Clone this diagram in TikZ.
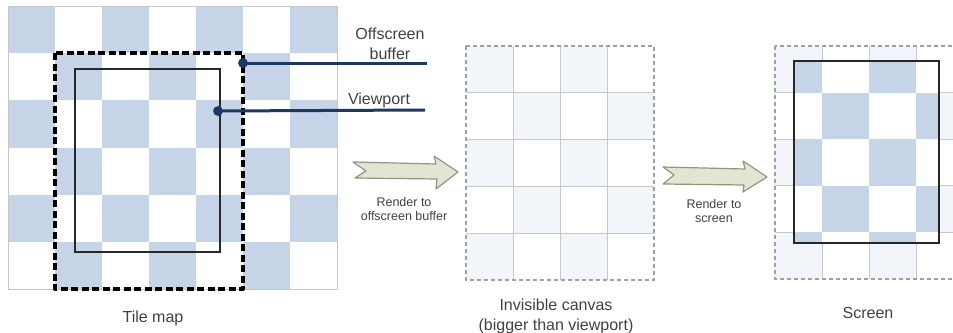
\documentclass[tikz,border=0pt]{standalone}
\usepackage{fontspec}
\setmainfont{Liberation Sans}
\definecolor{tileblue}{RGB}{197,212,231}
\definecolor{faintblue}{RGB}{242,246,251}
\definecolor{gridgray}{RGB}{200,200,200}
\definecolor{dashgray}{RGB}{160,160,160}
\definecolor{navy}{RGB}{30,55,100}
\definecolor{arrowfill}{RGB}{226,229,209}
\definecolor{arrowline}{RGB}{145,150,128}
\definecolor{labelgray}{RGB}{65,65,65}
\definecolor{vpgray}{RGB}{40,40,40}
\tikzset{
  lbl/.style={text=labelgray, font=\fontsize{16}{20}\selectfont, align=center, inner sep=0pt},
  smalllbl/.style={text=labelgray, font=\fontsize{12.5}{14.5}\selectfont, align=center, inner sep=0pt},
  leader/.style={draw=navy, line width=3pt},
  dotmark/.style={circle, fill=navy, minimum size=9.5pt, inner sep=0pt},
  blockarrow/.style={fill=arrowfill, draw=arrowline, line width=1.2pt, line join=round},
  offbuf/.style={draw=black, line width=3.3pt, dash pattern=on 7pt off 3.5pt, line join=round},
  vport/.style={draw=vpgray, line width=2pt},
  screenvport/.style={draw=black!85, line width=2.6pt},
  canvasborder/.style={draw=dashgray, line width=1.8pt, dash pattern=on 4pt off 3pt},
  gridline/.style={draw=gridgray, line width=1pt},
}
\begin{document}
\begin{tikzpicture}[x=1pt,y=-1pt]
\clip (0,0) rectangle (953,332);
\fill[white] (0,0) rectangle (953,332);

% ---------- Tile map ----------
\foreach \r in {0,...,5}{
  \foreach \c in {0,...,6}{
    \pgfmathtruncatemacro\p{mod(\r+\c,2)}
    \ifnum\p=0
      \fill[tileblue] ({8+47*\c},{6+47.17*\r}) rectangle ({8+47*(\c+1)},{6+47.17*(\r+1)});
    \fi
  }
}
\draw[gridgray, line width=0.8pt] (8,6) rectangle (337,289);
\draw[offbuf] (55,53) rectangle (243,289);
\draw[vport] (75,69) rectangle (220,252);

% leaders
\node[dotmark] (obdot) at (243,63) {};
\node[dotmark] (vpdot) at (218,111) {};
\coordinate (obend) at (427,63);
\coordinate (vpend) at (425,110);
\draw[leader] (obdot.center) -- (obend);
\draw[leader] (vpdot.center) -- (vpend);
\node[dotmark] at (obdot) {};
\node[dotmark] at (vpdot) {};
\node[lbl] (oblabel) at (390,44) {Offscreen\\buffer};
\node[lbl] (vplabel) at (379,100) {Viewport};
\node[lbl] (tilemap) at (153,318) {Tile map};

% ---------- Invisible canvas ----------
\foreach \r in {0,...,4}{
  \foreach \c in {0,...,3}{
    \pgfmathtruncatemacro\p{mod(\r+\c,2)}
    \ifnum\p=0
      \fill[faintblue] ({466+47*\c},{46+46.8*\r}) rectangle ({466+47*(\c+1)},{46+46.8*(\r+1)});
    \fi
  }
}
\foreach \c in {1,2,3} \draw[gridline] ({466+47*\c},46) -- ({466+47*\c},280);
\foreach \r in {1,2,3,4} \draw[gridline] (466,{46+46.8*\r}) -- (654,{46+46.8*\r});
\draw[canvasborder] (466,46) rectangle (654,280);
\node[lbl] (canvaslabel) at (556,316) {Invisible canvas\\(bigger than viewport)};

% ---------- Screen ----------
\foreach \r in {0,...,4}{
  \foreach \c in {0,...,3}{
    \pgfmathtruncatemacro\p{mod(\r+\c,2)}
    \ifnum\p=0
      \fill[faintblue] ({775+47*\c},{46+46.6*\r}) rectangle ({775+47*(\c+1)},{46+46.6*(\r+1)});
    \fi
  }
}
\foreach \c in {1,2,3,4} \draw[gridline] ({775+47*\c},46) -- ({775+47*\c},279);
\foreach \r in {1,2,3,4} \draw[gridline] (775,{46+46.6*\r}) -- (963,{46+46.6*\r});
\begin{scope}
  \clip (794,61) rectangle (939,243);
  \fill[white] (794,61) rectangle (939,243);
  \foreach \r in {0,...,4}{
    \foreach \c in {0,...,3}{
      \pgfmathtruncatemacro\p{mod(\r+\c,2)}
      \ifnum\p=0
        \fill[tileblue] ({775+47*\c},{46+46.6*\r}) rectangle ({775+47*(\c+1)},{46+46.6*(\r+1)});
      \fi
    }
  }
\end{scope}
\draw[canvasborder] (775,46) rectangle (963,279);
\draw[screenvport] (794,61) rectangle (939,243);
\node[lbl] (screenlabel) at (868,313) {Screen};

% ---------- Block arrows ----------
\draw[blockarrow] (353,162) -- (436,164) -- (434,156) -- (458,172) -- (436,189)
  -- (437,179) -- (355,178) -- (366,171) -- cycle;
\node[smalllbl] (r1) at (404,209) {Render to\\offscreen buffer};

\draw[blockarrow] (663,167) -- (745,169) -- (743,161) -- (767,177) -- (743,192)
  -- (744,185) -- (663,184) -- (674,175) -- cycle;
\node[smalllbl] (r2) at (714,211) {Render to\\screen};
\end{tikzpicture}
\end{document}
